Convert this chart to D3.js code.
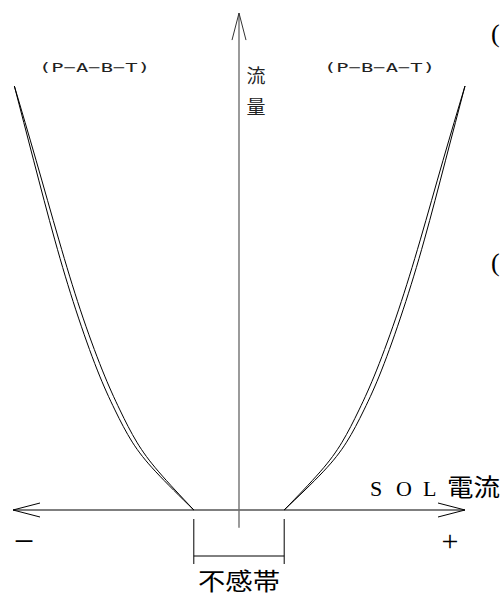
<!DOCTYPE html>
<html><head><meta charset="utf-8">
<script src="https://cdn.jsdelivr.net/npm/d3@7"></script>
<style>html,body{margin:0;padding:0;background:#fff;}svg{display:block;}</style>
</head><body>
<script>
// SOL current (units) and flow (%) for each characteristic curve
const flowQ       = [0, 9.0, 16.0, 23.6, 33.0, 47.2, 63.7, 82.5, 100];
const leftOuterI  = [-2.0, -3.68, -4.72, -5.49, -6.27, -7.22, -8.15, -9.09, -9.94];
const leftInnerI  = [-2.0, -3.55, -4.52, -5.27, -6.05, -7.02, -7.97, -8.98, -9.94];
const rightOuterI = [2.0, 3.72, 4.76, 5.53, 6.31, 7.26, 8.20, 9.14, 10.0];
const rightInnerI = [2.0, 3.59, 4.56, 5.31, 6.09, 7.06, 8.02, 9.03, 10.0];
const deadBand = [-2.0, 2.0];
const curveLabels = ["(P−A−B−T)", "(P−B−A−T)"];
const yLabel = ["流", "量"];
const xLabelLatin = ["S", "O", "L"];
const xLabelCJK = "電流";
const deadBandLabel = "不感帯";

const W = 504, H = 597;
const svg = d3.select("body").append("svg").attr("width", W).attr("height", H)
  .style("background", "#fff");

const x = d3.scaleLinear().domain([-10, 10]).range([13, 465]);
const y = d3.scaleLinear().domain([0, 100]).range([510, 86]);

// axes
const ax = svg.append("g").attr("fill", "none");
ax.append("line").attr("x1", x(-10)).attr("x2", x(10)).attr("y1", y(0)).attr("y2", y(0))
  .attr("stroke", "#000").attr("stroke-width", 1.2);
ax.append("path").attr("d", `M${x(-10)+27},${y(0)-7}L${x(-10)},${y(0)}L${x(-10)+27},${y(0)+7}`)
  .attr("stroke", "#000").attr("stroke-width", 1);
ax.append("path").attr("d", `M${x(10)-27},${y(0)-7}L${x(10)},${y(0)}L${x(10)-27},${y(0)+7}`)
  .attr("stroke", "#000").attr("stroke-width", 1);
const yTop = y(117.2);
ax.append("line").attr("x1", x(0)).attr("x2", x(0)).attr("y1", yTop).attr("y2", y(-4.2))
  .attr("stroke", "#707070").attr("stroke-width", 1.4);
ax.append("path").attr("d", `M${x(0)-7},${yTop+27}L${x(0)},${yTop}L${x(0)+7},${yTop+27}`)
  .attr("stroke", "#333").attr("stroke-width", 1);

// dead band bracket
const db = svg.append("g").attr("stroke", "#000").attr("stroke-width", 1);
deadBand.forEach(v => {
  db.append("line").attr("x1", x(v)).attr("x2", x(v)).attr("y1", y(0) + 9).attr("y2", y(0) + 54);
});
db.append("line").attr("x1", x(deadBand[0])).attr("x2", x(deadBand[1]))
  .attr("y1", y(0) + 46).attr("y2", y(0) + 46);

// curves
const line = d3.line().x(d => x(d[0])).y(d => y(d[1])).curve(d3.curveNatural);
[leftOuterI, leftInnerI, rightOuterI, rightInnerI].forEach(I => {
  svg.append("path").datum(I.map((v, i) => [v, flowQ[i]])).attr("d", line)
    .attr("fill", "none").attr("stroke", "#000").attr("stroke-width", 1);
});

// texts
const mono = "'DejaVu Sans Mono', monospace";
const cjk = "'Noto Sans CJK JP', sans-serif";
const serif = "'Liberation Serif', 'DejaVu Serif', serif";
[[39, curveLabels[0]], [324, curveLabels[1]]].forEach(([px, t]) => {
  svg.append("text").attr("x", px).attr("y", 72).attr("font-family", mono).attr("font-size", 13)
    .attr("fill", "#222").attr("textLength", 111).attr("lengthAdjust", "spacingAndGlyphs").text(t);
});

svg.append("text").attr("x", 256).attr("y", 83).attr("text-anchor", "middle")
  .attr("font-family", cjk).attr("font-size", 19).attr("fill", "#222").text(yLabel[0]);
svg.append("text").attr("x", 256).attr("y", 114).attr("text-anchor", "middle")
  .attr("font-family", cjk).attr("font-size", 19).attr("fill", "#222").text(yLabel[1]);

const latX = [370, 396, 423];
xLabelLatin.forEach((c, i) => {
  svg.append("text").attr("x", latX[i]).attr("y", 496).attr("font-family", serif)
    .attr("font-size", 22).text(c);
});
svg.append("text").attr("x", 447).attr("y", 496).attr("font-family", cjk).attr("font-size", 24)
  .attr("textLength", 53).attr("lengthAdjust", "spacingAndGlyphs").text(xLabelCJK);

svg.append("text").attr("x", 24).attr("y", 553).attr("text-anchor", "middle")
  .attr("font-family", serif).attr("font-size", 36).text("−");
svg.append("text").attr("x", 450).attr("y", 551).attr("text-anchor", "middle")
  .attr("font-family", serif).attr("font-size", 30).text("+");

svg.append("text").attr("x", x(0)).attr("y", 590).attr("text-anchor", "middle")
  .attr("font-family", cjk).attr("font-size", 24).attr("textLength", 82)
  .attr("lengthAdjust", "spacingAndGlyphs").text(deadBandLabel);

svg.append("text").attr("x", 491).attr("y", 42).attr("font-family", serif).attr("font-size", 26).text("(");
svg.append("text").attr("x", 491).attr("y", 271).attr("font-family", serif).attr("font-size", 26).text("(");
</script>
</body></html>
